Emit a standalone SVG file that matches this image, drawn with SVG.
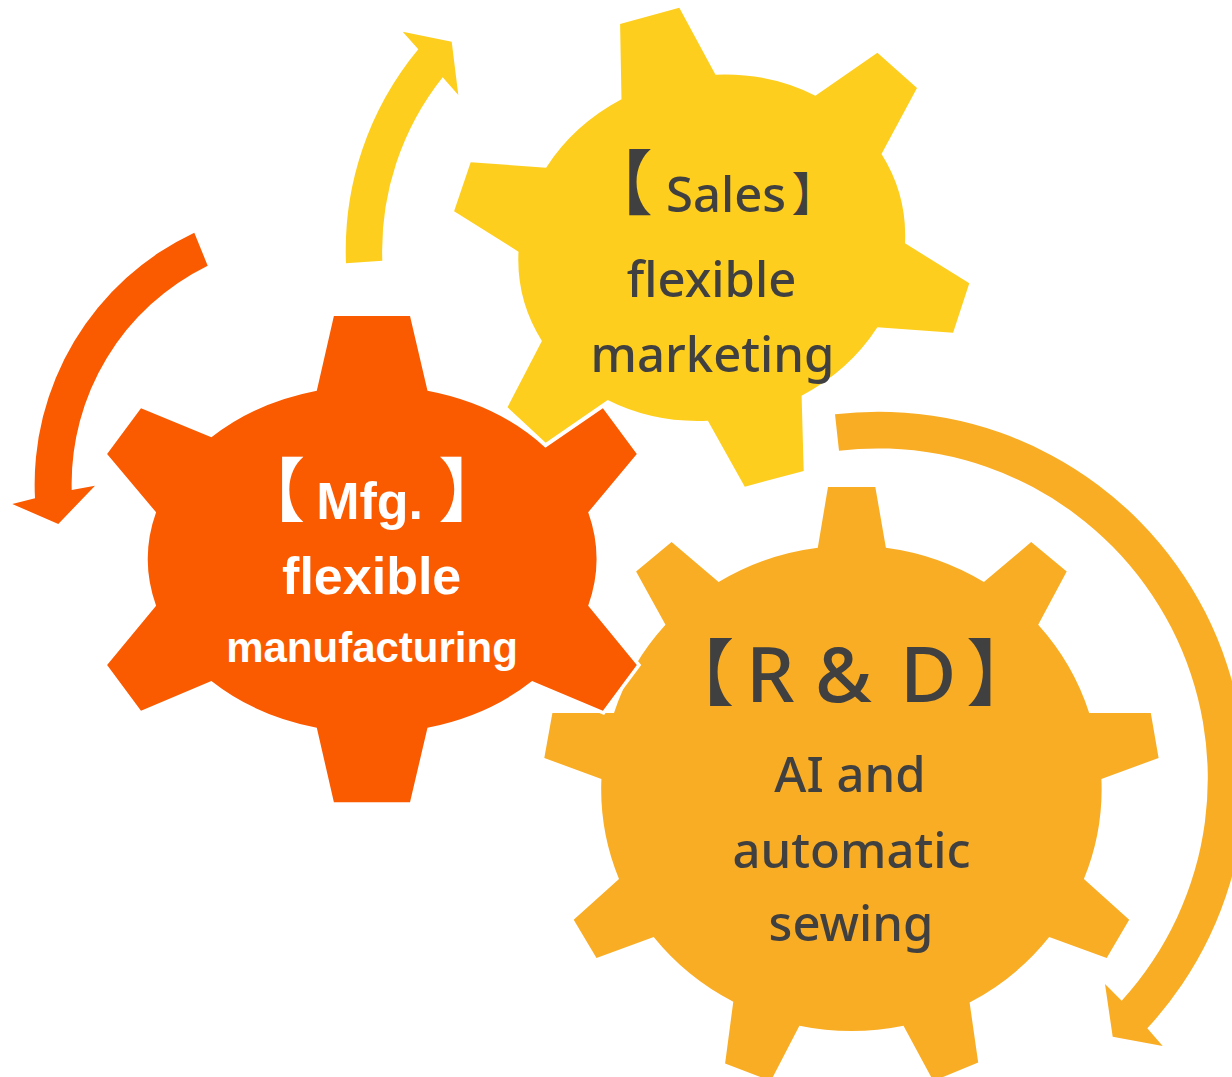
<svg xmlns="http://www.w3.org/2000/svg" width="1232" height="1077" viewBox="0 0 1232 1077">
<style>
.yel{fill:#FDCE1E}
.rnd{fill:#F9AD25}
.org{fill:#FA5A00}
.orggear{fill:#FA5A00;stroke:#FFFFFF;stroke-width:7;paint-order:stroke;stroke-linejoin:miter}
.dk{fill:#404040;font-family:"Noto Sans","Open Sans","DejaVu Sans",sans-serif;font-weight:500}
.wh{fill:#FFFFFF;font-family:"Liberation Sans",Arial,sans-serif;font-weight:bold}
.br{font-family:"Noto Sans CJK TC","Noto Sans CJK SC",sans-serif;font-weight:normal}
</style>
<rect width="1232" height="1077" fill="#FFFFFF"/>
<g id="sales">
<path class="yel" d="M 621.5 99.3 L 620.1 24 L 679.3 7.7 L 715.5 74.7 A 195 172 -15 0 1 815.4 95.7 L 877.4 52.7 L 917 88 L 881.5 154 A 195 172 -15 0 1 905 243.3 L 969.3 283.3 L 953.1 332.7 L 877.4 327.3 A 195 172 -15 0 1 801.6 395.7 L 803.7 471 L 744.8 486.7 L 707.9 420.7 A 195 172 -15 0 1 607.7 400 L 545.7 442.7 L 507.5 407.3 L 541.9 341 A 195 172 -15 0 1 518.5 251.7 L 454.1 211.3 L 470.7 162.3 L 546.1 167.7 A 195 172 -15 0 1 621.5 99.3 Z"/>
<text class="dk" font-size="49"><tspan class="br" x="653" y="209" font-size="71" text-anchor="end">【</tspan><tspan x="666" y="212">Sales</tspan><tspan class="br" x="791.5" y="210" font-size="46">】</tspan></text>
<text class="dk" font-size="49" text-anchor="middle" x="711.5" y="297">flexible</text>
<text class="dk" font-size="49" text-anchor="middle" x="712.5" y="372">marketing</text>
</g>
<g id="rnd">
<path class="rnd" d="M 817.8 547.8 L 828 486.9 L 875.3 486.9 L 885.9 547.8 A 250 243 0 0 1 983.9 582.1 L 1031.2 542.1 L 1066.7 571.4 L 1038.2 624.7 A 250 243 0 0 1 1089.2 713 L 1150.8 713 L 1158.6 758 L 1101.4 778.9 A 250 243 0 0 1 1083.9 879.1 L 1129.2 919.8 L 1106.7 957.9 L 1049.2 937 A 250 243 0 0 1 969.6 1002.5 L 978.2 1062.6 L 933.3 1081 L 903.5 1025.7 A 250 243 0 0 1 799.4 1025.7 L 770.8 1081 L 725.1 1063.4 L 733.3 1001.7 A 250 243 0 0 1 653.7 937 L 596.5 957.9 L 573.7 919.8 L 619 879.1 A 250 243 0 0 1 601.4 778.9 L 544.3 758 L 552.4 713 L 614 713 A 250 243 0 0 1 665.5 624.7 L 636.1 571.4 L 671.6 542.1 L 718.6 582.1 A 250 243 0 0 1 817.8 547.8 Z"/>
<text class="dk" font-size="77"><tspan class="br" x="734.5" y="700" font-size="73" text-anchor="end">【</tspan><tspan x="746" y="701.7">R</tspan><tspan x="815" y="701.7">&amp;</tspan><tspan x="900" y="701.7">D</tspan><tspan class="br" x="966" y="700" font-size="73">】</tspan></text>
<text class="dk" font-size="49" text-anchor="middle" x="850" y="792">AI and</text>
<text class="dk" font-size="49" text-anchor="middle" x="851.5" y="867.5">automatic</text>
<text class="dk" font-size="49" text-anchor="middle" x="851" y="941">sewing</text>
</g>
<g id="connectors">
<path id="arrow-sales" class="yel" d="M 346 263.3 A 315 315 0 0 1 418.3 49.3 L 402.7 31.7 L 451.7 41.7 L 458.3 95 L 442.7 77.3 A 279 279 0 0 0 382.3 260.7 Z"/>
<path id="arrow-mfg" class="org" d="M 194.3 232.7 A 278 278 0 0 0 35 498.3 L 12.3 504 L 58.3 524 L 95 485.7 L 71.7 490 A 243 243 0 0 1 207.7 265.7 Z"/>
<path id="arrow-rnd" class="rnd" d="M 835 414.3 A 367 367 0 0 1 1147.3 1028.3 L 1162.7 1046 L 1112.7 1036.7 L 1105 984 L 1121.7 1000.7 A 330 330 0 0 0 839 450.7 Z"/>
</g>
<g id="mfg">
<path class="orggear" d="M 333.9 316 L 410 316 L 427.5 390.7 A 224 174 0 0 1 545.4 447.7 L 602.9 408.3 L 636.8 454 L 588.2 512.3 A 224 174 0 0 1 588.2 605.7 L 636.8 665 L 602.9 710.7 L 532.1 681 A 224 174 0 0 1 427.5 727.7 L 410 802.3 L 333.9 802.3 L 316.8 727.7 A 224 174 0 0 1 211.4 681 L 141 710.7 L 107.1 665 L 156.1 605.7 A 224 174 0 0 1 156.1 512.3 L 107.1 454 L 141 408.3 L 211.4 437.3 A 224 174 0 0 1 316.8 390.7 Z"/>
<text class="wh" font-size="52"><tspan class="br" x="305.5" y="516" font-size="70" text-anchor="end">【</tspan><tspan x="316.2" y="519">Mfg.</tspan><tspan class="br" x="438" y="516" font-size="70">】</tspan></text>
<text class="wh" font-size="52" text-anchor="middle" x="371.7" y="593.5">flexible</text>
<text class="wh" font-size="42" text-anchor="middle" x="372" y="661.7">manufacturing</text>
</g>
</svg>
